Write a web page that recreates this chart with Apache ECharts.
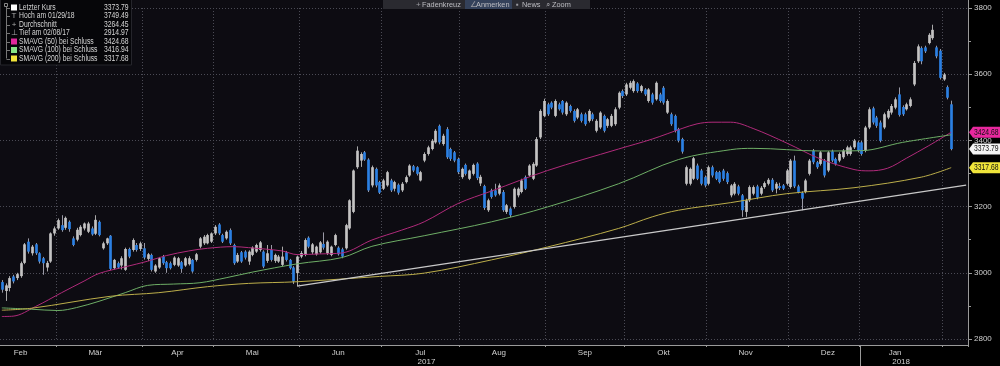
<!DOCTYPE html>
<html><head><meta charset="utf-8">
<script src="https://cdn.jsdelivr.net/npm/echarts@6/dist/echarts.min.js"></script>
<style>html,body{margin:0;padding:0;background:#000;}#c{width:1000px;height:366px;}</style>
</head><body><div id="c"></div>
<script>
// ---------- DATA ----------
const startDate = '2017-02-08';
const endDate = '2018-02-05';
const holidays = ['2017-04-14', '2017-12-25', '2017-12-26', '2018-01-01'];
const monthNames = ['Jan', 'Feb', 'Mär', 'Apr', 'Mai', 'Jun', 'Jul', 'Aug', 'Sep', 'Okt', 'Nov', 'Dez'];
const yTicks = { min: 2800, max: 3800, step: 200 };

// daily candles: [open, close, low, high]
const ohlc = [
[2972,2949,2940,2978],[2945,2962,2914.97,2968],[2954,2984,2944,2990],[2989,2974,2968,2994],[2984,2996,2978,3000],
[2990,3029,2985,3034],[3030,3086,3026,3090],[3094,3064,3058,3104],[3059,3079,3052,3084],[3086,3059,3054,3090],
[3059,3034,3028,3062],[3044,3029,2994,3048],[3016,3030,3004,3036],[3034,3119,3030,3122],[3119,3134,3112,3140],
[3134,3159,3130,3164],[3144,3129,3124,3174],[3136,3166,3130,3170],[3154,3132,3124,3158],[3104,3084,3080,3110],
[3100,3130,3095,3136],[3114,3139,3110,3144],[3134,3149,3128,3152],[3124,3149,3120,3154],[3134,3116,3112,3140],
[3118,3160,3114,3174],[3154,3114,3110,3158],[3074,3089,3070,3094],[3089,3104,3084,3106],[3112,3012,3008,3114],
[3014,3039,3010,3042],[3029,3016,3012,3034],[3022,3044,3010,3050],[3009,3072,3006,3076],[3072,3049,3044,3076],
[3069,3099,3064,3104],[3084,3069,3064,3090],[3072,3089,3066,3094],[3074,3046,3040,3090],[3042,3056,3036,3060],
[3054,3009,3004,3058],[3004,3022,3000,3026],[3016,3044,3012,3048],[3049,3029,3024,3054],[3032,3014,3000,3036],
[3029,3014,3010,3034],[3024,3046,3020,3050],[3022,3044,3018,3048],[3032,3012,3000,3036],[3022,3044,3018,3048],
[3026,3044,3022,3050],[3039,3004,3000,3042],[3039,3056,3034,3060],[3079,3104,3074,3108],[3089,3109,3084,3114],
[3089,3114,3086,3118],[3094,3119,3090,3122],[3119,3139,3114,3144],[3146,3119,3114,3150],[3114,3094,3090,3118],
[3104,3124,3100,3128],[3129,3089,3084,3134],[3084,3029,3024,3088],[3034,3054,3030,3060],[3062,3034,3030,3066],
[3064,3046,3040,3068],[3034,3064,3024,3068],[3054,3076,3050,3080],[3064,3084,3060,3088],[3069,3092,3064,3096],
[3064,3019,3014,3068],[3036,3059,3030,3084],[3069,3039,3034,3084],[3036,3054,3030,3058],[3034,3049,3030,3054],
[3024,3049,3020,3079],[3062,3039,3034,3066],[3039,3014,3010,3042],[3016,2974,2966,3020],[2999,3049,2960,3052],
[3049,3060,3044,3066],[3054,3099,3050,3104],[3106,3079,3074,3110],[3062,3086,3056,3090],[3056,3079,3052,3082],
[3062,3092,3058,3096],[3087,3076,3070,3122],[3059,3094,3054,3098],[3054,3079,3050,3082],[3084,3114,3080,3118],
[3076,3056,3052,3080],[3071,3049,3044,3076],[3074,3144,3070,3148],[3134,3219,3130,3222],[3184,3309,3180,3312],
[3319,3369,3314,3382],[3339,3359,3320,3364],[3364,3342,3338,3368],[3342,3249,3244,3346],[3264,3319,3258,3324],
[3314,3264,3258,3318],[3274,3242,3238,3278],[3254,3279,3250,3284],[3264,3304,3260,3308],[3279,3249,3244,3284],
[3254,3274,3246,3278],[3266,3242,3236,3270],[3249,3269,3244,3274],[3274,3289,3270,3294],[3294,3324,3290,3328],
[3322,3309,3304,3326],[3319,3299,3294,3322],[3279,3304,3276,3308],[3339,3359,3334,3364],[3359,3379,3354,3384],
[3374,3399,3370,3404],[3394,3429,3390,3434],[3444,3394,3388,3448],[3389,3414,3384,3420],[3434,3349,3344,3440],
[3374,3344,3338,3378],[3364,3339,3334,3368],[3344,3304,3298,3348],[3289,3314,3284,3318],[3326,3299,3294,3330],
[3284,3309,3280,3312],[3299,3326,3294,3330],[3330,3286,3280,3334],[3270,3290,3262,3296],[3262,3196,3190,3266],
[3189,3219,3184,3224],[3249,3229,3224,3254],[3249,3234,3230,3269],[3239,3264,3234,3270],[3244,3189,3184,3250],
[3184,3204,3178,3208],[3194,3174,3168,3198],[3199,3254,3194,3258],[3234,3254,3228,3258],[3244,3279,3240,3284],
[3289,3254,3250,3294],[3294,3324,3290,3328],[3284,3329,3280,3334],[3324,3404,3320,3410],[3409,3489,3404,3494],
[3474,3519,3470,3526],[3509,3479,3474,3514],[3514,3499,3494,3518],[3474,3519,3470,3524],[3509,3494,3490,3514],
[3519,3484,3478,3522],[3479,3514,3474,3518],[3504,3489,3484,3508],[3489,3459,3454,3494],[3469,3494,3464,3498],
[3479,3459,3454,3484],[3479,3449,3444,3484],[3459,3489,3454,3494],[3479,3464,3458,3484],[3429,3459,3424,3464],
[3439,3484,3434,3488],[3474,3429,3424,3478],[3444,3464,3438,3468],[3444,3474,3440,3480],[3449,3494,3444,3500],
[3499,3544,3494,3548],[3549,3534,3528,3554],[3539,3569,3534,3574],[3559,3574,3554,3580],[3549,3579,3544,3584],
[3572,3549,3544,3576],[3549,3564,3544,3568],[3554,3539,3534,3558],[3519,3554,3514,3558],[3539,3514,3508,3544],
[3524,3574,3520,3578],[3539,3519,3514,3544],[3559,3514,3508,3564],[3484,3519,3480,3524],[3479,3449,3444,3484],
[3474,3429,3424,3478],[3434,3399,3394,3438],[3404,3366,3360,3408],[3269,3319,3264,3324],[3269,3314,3264,3318],
[3284,3346,3280,3350],[3324,3284,3280,3330],[3309,3269,3264,3314],[3289,3264,3258,3294],[3269,3319,3264,3324],
[3319,3294,3288,3324],[3304,3284,3280,3308],[3304,3274,3270,3308],[3309,3284,3278,3314],[3301,3274,3268,3306],
[3234,3264,3228,3268],[3239,3269,3234,3274],[3261,3239,3234,3266],[3234,3189,3169,3238],[3184,3219,3169,3224],
[3219,3259,3214,3264],[3239,3259,3234,3264],[3261,3227,3222,3266],[3239,3257,3234,3262],[3259,3271,3254,3276],
[3269,3281,3264,3286],[3281,3249,3244,3286],[3254,3269,3240,3274],[3262,3256,3250,3272],[3264,3254,3250,3268],
[3269,3309,3264,3314],[3259,3339,3254,3344],[3339,3261,3256,3354],[3261,3244,3240,3266],[3241,3224,3189,3246],
[3244,3279,3240,3284],[3299,3339,3294,3344],[3369,3334,3328,3374],[3334,3319,3314,3338],[3329,3364,3324,3368],
[3339,3294,3288,3344],[3309,3364,3304,3368],[3367,3339,3334,3372],[3344,3329,3324,3348],[3339,3359,3334,3364],
[3349,3369,3344,3374],[3359,3379,3354,3384],[3359,3379,3354,3384],[3379,3399,3374,3404],[3394,3369,3364,3398],
[3394,3359,3354,3398],[3369,3439,3364,3444],[3439,3494,3434,3500],[3497,3454,3448,3502],[3469,3444,3438,3474],
[3454,3399,3394,3460],[3439,3479,3434,3484],[3469,3489,3464,3494],[3484,3504,3478,3510],[3499,3524,3494,3530],
[3539,3477,3472,3560],[3501,3479,3474,3506],[3494,3509,3490,3514],[3504,3524,3500,3530],[3569,3634,3564,3640],
[3639,3684,3634,3690],[3679,3639,3630,3684],[3681,3669,3664,3686],[3694,3719,3690,3724],[3709,3734,3704,3749.49],
[3681,3654,3648,3686],[3671,3589,3584,3676],[3584,3599,3580,3604],[3561,3529,3524,3566],[3509,3373.79,3370,3520]
];

// moving averages: [candle index, value]
const ma50 = [[0,2868],[3,2869],[9,2898],[16,2940],[22,2975],[26,2998],[33,3018],[39,3035],[44,3052],[50,3066],
[55,3074],[62,3079],[66,3076],[75,3066],[79,3055],[85,3057],[91,3060],[99,3099],[107,3129],[113,3154],[122,3209],
[131,3247],[146,3309],[165,3374],[174,3404],[182,3436],[186,3450],[190,3455],[195,3455],[201,3436],[210,3392],
[219,3344],[228,3312],[232,3308],[237,3316],[242,3346],[248,3384],[254,3424.68]];
const ma100 = [[0,2894],[8,2890],[15,2886],[20,2895],[26,2914],[33,2940],[39,2962],[46,2966],[53,2970],[60,2985],
[67,3002],[79,3027],[91,3046],[99,3080],[113,3112],[131,3154],[146,3199],[165,3269],[181,3342],[195,3372],
[201,3376],[219,3368],[230,3369],[241,3394],[254,3416.94]];
const ma200 = [[0,2887],[8,2893],[29,2929],[42,2940],[55,2958],[66,2968],[79,2973],[101,2989],[113,2999],[131,3039],
[146,3078],[165,3134],[174,3169],[181,3189],[195,3212],[210,3239],[228,3257],[246,3289],[254,3317.68]];
const trend = [[79,2960],[258,3265]];

const legendRows = [
  { label: 'Letzter Kurs', value: '3373.79', icon: 'sq', color: '#ffffff' },
  { label: 'Hoch am 01/29/18', value: '3749.49', icon: 'hi' },
  { label: 'Durchschnitt', value: '3264.45', icon: 'avg' },
  { label: 'Tief am 02/08/17', value: '2914.97', icon: 'lo' },
  { label: 'SMAVG (50) bei Schluss', value: '3424.68', icon: 'sq', color: '#e0289c' },
  { label: 'SMAVG (100) bei Schluss', value: '3416.94', icon: 'sq', color: '#86e486' },
  { label: 'SMAVG (200) bei Schluss', value: '3317.68', icon: 'sq', color: '#f2e43a' }
];
const priceTags = [
  { value: 3424.68, bg: '#e8289e', fg: '#111' },
  { value: 3373.79, bg: '#f4f4f4', fg: '#111' },
  { value: 3317.68, bg: '#efe43a', fg: '#111' }
];
const toolbarItems = [
  { icon: '+', label: 'Fadenkreuz' },
  { icon: '∠', label: 'Anmerken', active: true },
  { icon: '▪', label: 'News' },
  { icon: '⌕', label: 'Zoom' }
];

// ---------- BUILD ----------
function tradingDays(start, end, hol) {
  const out = [];
  const d = new Date(start + 'T00:00:00Z'), e = new Date(end + 'T00:00:00Z');
  while (d <= e) {
    const wd = d.getUTCDay(), s = d.toISOString().slice(0, 10);
    if (wd !== 0 && wd !== 6 && hol.indexOf(s) < 0) out.push(s);
    d.setUTCDate(d.getUTCDate() + 1);
  }
  return out;
}
const dates = tradingDays(startDate, endDate, holidays);
const categories = dates.concat(['p1', 'p2', 'p3', 'p4']);
const monthStart = new Set(), labelIdx = new Set();
let seen = {};
dates.forEach((s, i) => {
  const ym = s.slice(0, 7), day = +s.slice(8, 10);
  if (i > 0 && ym !== dates[i - 1].slice(0, 7)) monthStart.add(i);
  if (day >= 15 && !seen[ym]) { seen[ym] = true; labelIdx.add(i); }
});
const janIdx = dates.indexOf('2018-01-02');

const FONT = '"Liberation Sans",Arial,sans-serif';
const gridLine = { color: '#4b4b55', width: 1, type: [1, 2] };

const chart = echarts.init(document.getElementById('c'), null, { renderer: 'canvas' });
chart.setOption({
  backgroundColor: '#000',
  animation: false,
  grid: { left: 0, right: 32, top: 8, bottom: 25 },
  xAxis: {
    type: 'category', data: categories, boundaryGap: true, offset: 6,
    axisLine: { show: true, lineStyle: { color: '#9a9a9a', width: 1 } },
    axisTick: { show: true, length: 2, interval: (i) => monthStart.has(i), lineStyle: { color: '#9a9a9a' } },
    axisLabel: {
      interval: (i) => labelIdx.has(i), color: '#d0d0d0', fontSize: 8, fontFamily: FONT, margin: 3, lineHeight: 9,
      formatter: (v, i) => {
        const d = dates[i]; if (!d) return '';
        const m = monthNames[+d.slice(5, 7) - 1];
        const mm = d.slice(5, 7);
        if (mm === '07' || mm === '01') return m + '\n{yr|' + d.slice(0, 4) + '}';
        return m;
      },
      rich: { yr: { color: '#d0d0d0', fontSize: 8, fontFamily: FONT, padding: [0, 0, 0, 12], lineHeight: 9 } }
    },
    splitLine: { show: true, interval: (i) => monthStart.has(i), lineStyle: gridLine }
  },
  yAxis: {
    type: 'value', position: 'right', min: yTicks.min, max: yTicks.max, interval: yTicks.step,
    axisLine: { show: false },
    axisTick: { show: true, length: 4, lineStyle: { color: '#9a9a9a' } },
    minorTick: { show: true, splitNumber: 2, length: 3, lineStyle: { color: '#9a9a9a' } },
    axisLabel: { color: '#d0d0d0', fontSize: 8, fontFamily: FONT, margin: 6, formatter: (v) => String(v) },
    splitLine: { show: true, lineStyle: gridLine }
  },
  series: [
    {
      type: 'custom', name: 'Kurs', z: 3,
      data: ohlc.map((c, i) => [i, c[0], c[1], c[2], c[3]]),
      encode: { x: 0, y: [1, 2, 3, 4] },
      renderItem: function (params, api) {
        const i = api.value(0), o = api.value(1), c = api.value(2), l = api.value(3), h = api.value(4);
        const pO = api.coord([i, o]), pC = api.coord([i, c]), pL = api.coord([i, l]), pH = api.coord([i, h]);
        const bw = api.size([1, 0])[0];
        const w = bw * 0.72;
        const x = Math.round(pO[0]) + 0.5;
        const top = Math.min(pO[1], pC[1]), bot = Math.max(pO[1], pC[1]);
        const up = c >= o;
        return {
          type: 'group', children: [
            { type: 'line', shape: { x1: x, y1: pH[1], x2: x, y2: pL[1] }, style: { stroke: up ? '#a8a8a8' : '#9a9aa6', lineWidth: 1 } },
            { type: 'rect', shape: { x: x - w / 2, y: top, width: w, height: Math.max(bot - top, 1) }, style: { fill: up ? '#c4c4c4' : '#2b80e3' } }
          ]
        };
      }
    },
    { type: 'line', name: 'SMAVG (50)', data: ma50, symbol: 'none', smooth: 0.35, z: 4, lineStyle: { color: '#b02a7a', width: 1 } },
    { type: 'line', name: 'SMAVG (100)', data: ma100, symbol: 'none', smooth: 0.35, z: 4, lineStyle: { color: '#6eae66', width: 1 } },
    { type: 'line', name: 'SMAVG (200)', data: ma200, symbol: 'none', smooth: 0.35, z: 4, lineStyle: { color: '#bcae4a', width: 1 } },
    { type: 'line', name: 'Trend', data: trend, symbol: 'none', z: 4, lineStyle: { color: '#c9c9c9', width: 1.2 } }
  ]
});

// ---------- DECORATION (legend, toolbar, tags) ----------
const g = [];
const bandW = chart.convertToPixel({ xAxisIndex: 0 }, 1) - chart.convertToPixel({ xAxisIndex: 0 }, 0);
const gridRight = chart.convertToPixel({ xAxisIndex: 0 }, categories.length - 1) + bandW / 2;
const axisY = chart.convertToPixel({ yAxisIndex: 0 }, yTicks.min) + 6;
g.push({ type: 'rect', id: 'bg', z: -100, silent: true, shape: { x: 0, y: 0, width: gridRight, height: axisY }, style: { fill: '#0d0c12' } });
g.push({ type: 'line', id: 'yline', z: 50, shape: { x1: Math.round(gridRight) + 0.5, y1: 0, x2: Math.round(gridRight) + 0.5, y2: axisY }, style: { stroke: '#9a9a9a', lineWidth: 1 } });
const janX = Math.round(chart.convertToPixel({ xAxisIndex: 0 }, janIdx) - bandW / 2) + 0.5;
g.push({ type: 'line', id: 'yearsep', z: 50, shape: { x1: janX, y1: axisY, x2: janX, y2: 366 }, style: { stroke: '#9a9a9a', lineWidth: 1 } });

priceTags.forEach((t, k) => {
  const y = chart.convertToPixel({ yAxisIndex: 0 }, t.value);
  const x0 = Math.round(gridRight) + 1;
  g.push({ type: 'polygon', id: 'tag' + k, z: 60, shape: { points: [[x0, y], [x0 + 4, y - 5.5], [x0 + 31, y - 5.5], [x0 + 31, y + 5.5], [x0 + 4, y + 5.5]] }, style: { fill: t.bg } });
  g.push({ type: 'text', id: 'tagt' + k, z: 61, x: x0 + 5, y: y, scaleX: 0.8, style: { text: t.value.toFixed(2), fill: t.fg, font: '8.5px ' + FONT, verticalAlign: 'middle' } });
});

g.push({ type: 'rect', id: 'lgbox', z: 70, shape: { x: 0.5, y: -1, width: 131, height: 66 }, style: { fill: '#060609', stroke: '#25252b', lineWidth: 1 } });
g.push({ type: 'rect', id: 'lgtop', z: 71, shape: { x: 4.5, y: 3.5, width: 3, height: 3 }, style: { fill: 'none', stroke: '#888', lineWidth: 1 } });
g.push({ type: 'line', id: 'lgtree', z: 71, shape: { x1: 6.5, y1: 7, x2: 6.5, y2: 58.5 }, style: { stroke: '#777', lineWidth: 1 } });
legendRows.forEach((r, k) => {
  const y = 7.5 + k * 8.5;
  g.push({ type: 'line', id: 'lgbr' + k, z: 71, shape: { x1: 6.5, y1: Math.round(y) + 0.5, x2: 10, y2: Math.round(y) + 0.5 }, style: { stroke: '#777', lineWidth: 1 } });
  if (r.icon === 'sq') {
    g.push({ type: 'rect', id: 'lgi' + k, z: 72, shape: { x: 11, y: y - 3, width: 6, height: 6 }, style: { fill: r.color } });
  } else {
    const ch = r.icon === 'hi' ? 'T' : (r.icon === 'lo' ? '⊥' : '+');
    g.push({ type: 'text', id: 'lgi' + k, z: 72, x: 14, y: y, style: { text: ch, fill: '#aaa', font: '8px ' + FONT, align: 'center', verticalAlign: 'middle' } });
  }
  g.push({ type: 'text', id: 'lgl' + k, z: 72, x: 19, y: y, scaleX: 0.8, style: { text: r.label, fill: '#d4d4d4', font: '8.5px ' + FONT, verticalAlign: 'middle' } });
  g.push({ type: 'text', id: 'lgv' + k, z: 72, x: 104, y: y, scaleX: 0.8, style: { text: r.value, fill: '#d4d4d4', font: '8.5px ' + FONT, verticalAlign: 'middle' } });
});

g.push({ type: 'rect', id: 'tb', z: 70, shape: { x: 383, y: 0, width: 207, height: 9 }, style: { fill: '#2a2a30' } });
const tbX = [416, 470, 516, 546];
toolbarItems.forEach((t, k) => {
  if (t.active) g.push({ type: 'rect', id: 'tba' + k, z: 71, shape: { x: tbX[k] - 5, y: 0, width: 47, height: 9 }, style: { fill: '#34415a' } });
  g.push({ type: 'text', id: 'tbi' + k, z: 72, x: tbX[k], y: 4.5, style: { text: t.icon, fill: '#9a9aa0', font: '8px ' + FONT, verticalAlign: 'middle' } });
  g.push({ type: 'text', id: 'tbl' + k, z: 72, x: tbX[k] + 6, y: 4.5, scaleX: 0.92, style: { text: t.label, fill: '#bdbdc2', font: '8px ' + FONT, verticalAlign: 'middle' } });
});

chart.setOption({ graphic: { elements: g } });
</script>
</body></html>
